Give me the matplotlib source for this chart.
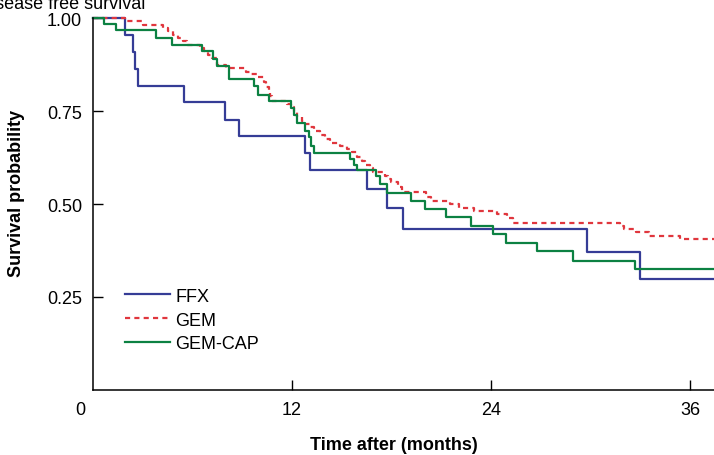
import matplotlib
matplotlib.use("Agg")
import matplotlib.pyplot as plt
import matplotlib.transforms as mtransforms

plt.rcParams["font.family"] = ["Liberation Sans", "DejaVu Sans"]

# step data (months, survival probability)
ffx_t = [0, 1.9, 2.4, 2.55, 2.7, 5.5, 7.95, 8.8, 12.8, 13.1, 16.5, 17.7, 18.7, 29.8, 33.0]
ffx_s = [1.0, 0.955, 0.909, 0.864, 0.818, 0.773, 0.727, 0.682, 0.636, 0.591,
         0.540, 0.488, 0.434, 0.371, 0.298]

gem_t = [0, 1.93, 3.04, 4.2, 4.5, 4.8, 5.1, 5.4, 5.65, 6.45, 6.7, 6.95, 7.2, 7.46,
         8.0, 9.2, 9.5, 9.9, 10.3, 10.45, 10.6, 10.7, 10.8, 11.7, 11.95, 12.1, 12.3,
         12.6, 12.8, 13.1, 13.3, 13.7, 14.0, 14.3, 14.9, 15.3, 15.6, 15.9, 16.2, 16.4,
         16.7, 16.9, 17.6, 17.8, 18.0, 18.4, 18.65, 20.1, 20.4, 21.5, 22.1, 23.0,
         24.35, 24.95, 25.35, 31.8, 32.0, 32.75, 33.55, 35.4]
gem_s = [1.0, 0.991, 0.982, 0.973, 0.964, 0.955, 0.946, 0.937, 0.928, 0.919, 0.910,
         0.901, 0.892, 0.874, 0.865, 0.856, 0.849, 0.841, 0.829, 0.814, 0.802, 0.790,
         0.778, 0.769, 0.760, 0.748, 0.735, 0.724, 0.715, 0.706, 0.697, 0.685, 0.675,
         0.664, 0.657, 0.648, 0.639, 0.626, 0.615, 0.605, 0.596, 0.587, 0.576, 0.567,
         0.558, 0.545, 0.531, 0.519, 0.507, 0.499, 0.489, 0.482, 0.473, 0.462, 0.450,
         0.441, 0.434, 0.426, 0.415, 0.406]

cap_t = [0, 0.68, 1.39, 3.8, 4.74, 6.59, 7.26, 7.46, 8.22, 9.73, 9.97, 10.63, 11.94,
         12.12, 12.28, 12.78, 13.0, 13.15, 13.3, 15.5, 15.75, 15.95, 17.05, 17.3, 17.7,
         19.2, 20.0, 21.3, 22.8, 24.15, 24.9, 26.75, 28.95, 32.7]
cap_s = [1.0, 0.985, 0.967, 0.945, 0.927, 0.912, 0.891, 0.872, 0.836, 0.816, 0.794,
         0.778, 0.758, 0.739, 0.717, 0.697, 0.679, 0.657, 0.637, 0.621, 0.606, 0.591,
         0.576, 0.554, 0.530, 0.509, 0.487, 0.464, 0.440, 0.419, 0.395, 0.373, 0.348,
         0.325]

x_end = 37.5

fig = plt.figure(figsize=(7.14, 4.56), dpi=100)
ax = fig.add_axes([93 / 714, 65 / 456, 621 / 714, 372 / 456])

def draw(t, s, **kw):
    ax.step(t + [x_end], s + [s[-1]], where="post", clip_on=False, **kw)

draw(ffx_t, ffx_s, color="#353C96", lw=1.6, label="FFX")
draw(gem_t, gem_s, color="#E0363D", lw=1.6, linestyle=(0, (2.3, 1.9)), label="GEM")
draw(cap_t, cap_s, color="#0C8142", lw=1.6, label="GEM-CAP")

ax.set_xlim(0, 37.45)
ax.set_ylim(0, 1.0)
ax.set_xticks([0, 12, 24, 36])
ax.set_yticks([0.25, 0.50, 0.75, 1.00])
ax.set_yticklabels(["0.25", "0.50", "0.75", "1.00"])
ax.tick_params(direction="in", length=7, width=1, labelsize=13, pad=8, color="black")

# the "0" sits a little left of the origin
shift = mtransforms.ScaledTranslation(-13 / 100, 0, fig.dpi_scale_trans)
lbl0 = ax.get_xticklabels()[0]
lbl0.set_transform(lbl0.get_transform() + shift)
ax.xaxis.get_major_ticks()[0].tick1line.set_visible(False)

for side in ["top", "right"]:
    ax.spines[side].set_visible(False)
for side in ["left", "bottom"]:
    ax.spines[side].set_linewidth(1.1)

fig.text(17 / 714, 1 - 193 / 456, "Survival probability", rotation=90,
         ha="center", va="center", fontsize=13, fontweight="bold")
fig.text(394 / 714, 1 - 446 / 456, "Time after (months)",
         ha="center", va="center", fontsize=13, fontweight="bold")
fig.text(145 / 714, 1 - 9 / 456, "Disease free survival", ha="right",
         va="baseline", fontsize=13)

ax.legend(loc="upper left", bbox_to_anchor=(0.051, 0.275), frameon=False,
          fontsize=13, handlelength=2.5, handletextpad=0.3, labelspacing=0.38,
          borderpad=0, borderaxespad=0)

fig.savefig("out.png", dpi=100)
